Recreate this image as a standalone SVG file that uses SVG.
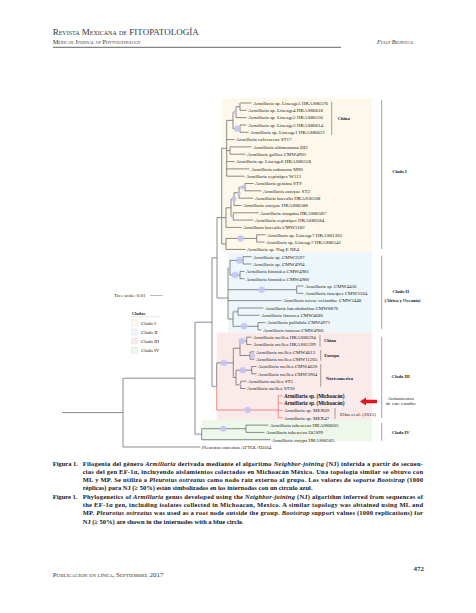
<svg xmlns="http://www.w3.org/2000/svg" width="476" height="613" viewBox="0 0 476 613">
<style>
.t{font-family:"Liberation Serif",serif;font-size:5px;fill:#222}
.tb{font-family:"Liberation Serif",serif;font-size:5.2px;font-weight:bold;fill:#111}
.br{fill:none;stroke:#666;stroke-width:0.75}
.red{fill:none;stroke:#f07070;stroke-width:0.8}
.bs{fill:#c4c4f4;fill-opacity:0.9}
.bar{stroke:#666;stroke-width:0.6}
.cl{font-family:"Liberation Serif",serif;font-size:4.6px;font-weight:bold;fill:#222}
.cap{font-family:"Liberation Serif",serif;font-size:6.5px;font-weight:bold;fill:#151520}
.hd{font-family:"Liberation Serif",serif;fill:#333}
</style>
<rect width="476" height="613" fill="#fff"/>
<g id="header">
<text class="hd" x="52.7" y="35" font-size="9" style="font-variant:small-caps">Revista Mexicana de FITOPATOLOGÍA</text>
<text class="hd" x="52.7" y="43.7" font-size="6.4" style="font-variant:small-caps">Mexican Journal of Phytopathology</text>
<line x1="52.7" y1="47.3" x2="341" y2="47.3" stroke="#222" stroke-width="0.7"/>
<text class="hd" x="377" y="44" font-size="6.2" font-style="italic" fill="#555" style="font-variant:small-caps">Fully Bilingual</text>
</g>
<g id="backgrounds">
<rect x="221.7" y="98" width="150.3" height="154.5" fill="#fdf8ea"/>
<rect x="228" y="252.5" width="144" height="80" fill="#edf7fb"/>
<rect x="216.7" y="332.5" width="155.3" height="87.5" fill="#fbeaea"/>
<rect x="201.7" y="420" width="170.3" height="21" fill="#edf8ea"/>
</g>
<g id="connectors">
<path class="br" d="M240 103V110.3M240 103H251.5M240 110.3H246.5M236 106.7V117.6M236 106.7H240M236 117.6H246.5M240 125V132.3M240 125H246.5M240 132.3H248.5M233 112.1V128.7M233 112.1H236M233 128.7H240
M226.7 120.4V176.2M226.7 120.4H233M226.7 139.6H234.5M230 146.9V154.2M230 146.9H251.5M230 154.2H245.5M226.7 150.6H230M226.7 161.6H234.5M226.7 168.9H249.5M226.7 176.2H244.5
M245 183.5V190.8M245 183.5H253.5M245 190.8H261.5M239 187.2V198.2M239 187.2H245M239 198.2H253.5M234 192.7V205.5M234 192.7H239M234 205.5H241.5M233.3 212.8V220.1M233.3 212.8H258.5M233.3 220.1H253.5M231 199.1V216.5M231 199.1H234M231 216.5H233.3M226 207.8V227.4M226 207.8H231M226 227.4H241.5
M256.7 234.8V242.1M256.7 234.8H265.5M256.7 242.1H264.5M226 238.4V249.4M226 238.4H256.7M226 249.4H245.5
M221.7 148.3V243.9M221.7 148.3H226.7M221.7 217.6H226M221.7 243.9H226
M243 256.7V264M243 256.7H251.5M243 264H251.5M240 271.4V278.7M240 271.4H244.5M240 278.7H244.5M230 260.4V275M230 260.4H243M230 275H240
M296.7 286V293.3M296.7 286H303.5M296.7 293.3H303.5M238 308V315.3M238 308H263.5M238 315.3H259.5M258 322.6V329.9M258 322.6H265.5M258 329.9H261.5M233 311.7V326.3M233 311.7H238M233 326.3H258
M228 267.7V319M228 267.7H230M228 289.7H296.7M228 300.6H281.5M228 319H233
M217 217.6V298M217 217.6H221.7M217 298H228
M246.7 337.2V344.6M246.7 337.2H251.5M246.7 344.6H251.5M250 351.9V359.2M250 351.9H254.5M250 359.2H254.5M240 340.9V355.5M240 340.9H246.7M240 355.5H250
M251.7 366.5V373.8M251.7 366.5H256.5M251.7 373.8H256.5M240.7 381.2V388.5M240.7 381.2H246.5M240.7 388.5H245.5M236 370.2V384.8M236 370.2H251.7M236 384.8H240.7
M233.3 348.2V377.5M233.3 348.2H240M233.3 377.5H236M216.7 362.9V386.5M216.7 362.9H233.3
M212 257.8V386.5M212 257.8H217M212 386.5H216.7
M246 425.1V432.4M246 425.1H268.5M246 432.4H264.5M201.7 428.7V439.7M201.7 428.7H246M201.7 439.7H270.5
M195 322.2V434.2M195 322.2H212M195 434.2H201.7
M123 378.2V447M123 378.2H195M123 447H200.5M62 412.6H123"/>
<path class="red" d="M216.7 386.5V410M216.7 410H278.3M278.3 395.8V417.8M278.3 395.8H282.5M278.3 403.1H282.5M278.3 410.4H282.5M278.3 417.8H282.5"/>
</g>
<g id="bootstrap">
<circle class="bs" cx="239.3" cy="104" r="1.2"/>
<circle class="bs" cx="234.7" cy="112.4" r="1.8"/>
<circle class="bs" cx="237.3" cy="128.7" r="3.2"/>
<circle class="bs" cx="242.7" cy="187.2" r="2.2"/>
<circle class="bs" cx="239.3" cy="193.3" r="1.5"/>
<circle class="bs" cx="234" cy="198.8" r="2.6"/>
<circle class="bs" cx="232.3" cy="216.5" r="1.2"/>
<circle class="bs" cx="240.7" cy="238.4" r="3.2"/>
<circle class="bs" cx="239.3" cy="260.4" r="3.3"/>
<circle class="bs" cx="235" cy="275" r="3.3"/>
<circle class="bs" cx="229.3" cy="267.7" r="1.3"/>
<circle class="bs" cx="261.7" cy="289.7" r="3.3"/>
<circle class="bs" cx="221.7" cy="298.3" r="1.3"/>
<circle class="bs" cx="235" cy="311.7" r="1.6"/>
<circle class="bs" cx="244" cy="326.3" r="3.2"/>
<circle class="bs" cx="203.3" cy="322.2" r="1.3"/>
<circle class="bs" cx="241.7" cy="340.9" r="3.2"/>
<circle class="bs" cx="252.7" cy="355.5" r="2.5"/>
<circle class="bs" cx="242.7" cy="370.2" r="3.2"/>
<circle class="bs" cx="240" cy="384.5" r="1.3"/>
<circle class="bs" cx="224" cy="362.9" r="3.2"/>
<circle class="bs" cx="214" cy="386.5" r="1.3"/>
<circle class="bs" cx="247.7" cy="410" r="3.2"/>
<circle class="bs" cx="223.3" cy="428.7" r="3"/>
<circle class="bs" cx="197.7" cy="434.2" r="1.2"/>
</g>
<g id="tips">
<g id="n1"><text class="t" x="253" y="104.8">Armillaria sp. Lineage5 HKAS86576</text></g>
<g id="n2"><text class="t" x="248" y="112.1">Armillaria sp. Lineage4 HKAS86618</text></g>
<g id="n3"><text class="t" x="248" y="119.4">Armillaria sp. Lineage2 HKAS86556</text></g>
<g id="n4"><text class="t" x="248" y="126.8">Armillaria sp. Lineage3 HKAS86614</text></g>
<g id="n5"><text class="t" x="250" y="134.1">Armillaria sp. Lineage1 HKAS86621</text></g>
<g id="n6"><text class="t" x="236" y="141.4">Armillaria calvescens ST17</text></g>
<g id="n7"><text class="t" x="253" y="148.7">Armillaria altimontana DI2</text></g>
<g id="n8"><text class="t" x="247" y="156">Armillaria gallica CMW4901</text></g>
<g id="n9"><text class="t" x="236" y="163.4">Armillaria sp. Lineage6 HKAS86558</text></g>
<g id="n10"><text class="t" x="251" y="170.7">Armillaria nabsnona M90</text></g>
<g id="n11"><text class="t" x="246" y="178">Armillaria cepistipes W113</text></g>
<g id="n12"><text class="t" x="255" y="185.3">Armillaria gemina ST9</text></g>
<g id="n13"><text class="t" x="263" y="192.6">Armillaria ostoyae ST2</text></g>
<g id="n14"><text class="t" x="255" y="200">Armillaria borealis HKAS36108</text></g>
<g id="n15"><text class="t" x="243" y="207.3">Armillaria ostoyae HKAS86588</text></g>
<g id="n16"><text class="t" x="260" y="214.6">Armillaria sinapina HKAS86587</text></g>
<g id="n17"><text class="t" x="255" y="221.9">Armillaria cepistipes HKAS86584</text></g>
<g id="n18"><text class="t" x="243" y="229.2">Armillaria borealis CMW3182</text></g>
<g id="n19"><text class="t" x="267" y="236.6">Armillaria sp. Lineage7 HKAS81303</text></g>
<g id="n20"><text class="t" x="266" y="243.9">Armillaria sp. Lineage7 HKAS86541</text></g>
<g id="n21"><text class="t" x="247" y="251.2">Armillaria sp. Nag E NE4</text></g>
<g id="n22"><text class="t" x="253" y="258.5">Armillaria sp. CMW3597</text></g>
<g id="n23"><text class="t" x="253" y="265.8">Armillaria sp. CMW4994</text></g>
<g id="n24"><text class="t" x="246" y="273.2">Armillaria hinnulea CMW4981</text></g>
<g id="n25"><text class="t" x="246" y="280.5">Armillaria hinnulea CMW4980</text></g>
<g id="n26"><text class="t" x="305" y="287.8">Armillaria sp. CMW4456</text></g>
<g id="n27"><text class="t" x="305" y="295.1">Armillaria fuscipes CMW3164</text></g>
<g id="n28"><text class="t" x="283" y="302.4">Armillaria novae-zelandiae CMW3448</text></g>
<g id="n29"><text class="t" x="265" y="309.8">Armillaria luteobubalina CMW8876</text></g>
<g id="n30"><text class="t" x="261" y="317.1">Armillaria limonea CMW4680</text></g>
<g id="n31"><text class="t" x="267" y="324.4">Armillaria pallidula CMW4971</text></g>
<g id="n32"><text class="t" x="263" y="331.7">Armillaria fumosa CMW4960</text></g>
<g id="n33"><text class="t" x="253" y="339">Armillaria mellea HKAS86594</text></g>
<g id="n34"><text class="t" x="253" y="346.4">Armillaria mellea HKAS81599</text></g>
<g id="n35"><text class="t" x="256" y="353.7">Armillaria mellea CMW4613</text></g>
<g id="n36"><text class="t" x="256" y="361">Armillaria mellea CMW11265</text></g>
<g id="n37"><text class="t" x="258" y="368.3">Armillaria mellea CMW4620</text></g>
<g id="n38"><text class="t" x="258" y="375.6">Armillaria mellea CMW3964</text></g>
<g id="n39"><text class="t" x="248" y="383">Armillaria mellea ST5</text></g>
<g id="n40"><text class="t" x="247" y="390.3">Armillaria mellea ST20</text></g>
<g id="n41"><text class="tb" x="284" y="397.6">Armillaria sp. (Michoacán)</text></g>
<g id="n42"><text class="tb" x="284" y="404.9">Armillaria sp. (Michoacán)</text></g>
<g id="n43"><text class="t" x="284" y="412.2">Armillaria sp. MEX69</text></g>
<g id="n44"><text class="t" x="284" y="419.6">Armillaria sp. MEX47</text></g>
<g id="n45"><text class="t" x="270" y="426.9">Armillaria tabescens HKAS86605</text></g>
<g id="n46"><text class="t" x="266" y="434.2">Armillaria tabescens OC099</text></g>
<g id="n47"><text class="t" x="272" y="441.5">Armillaria ostypa HKAS86565</text></g>
<g id="n48"><text class="t" x="202" y="448.8">Pleurotus ostreatus AFTOL-ID564</text></g>
</g>
<g id="subgroups">
<line class="bar" x1="331.7" y1="101.7" x2="331.7" y2="135"/>
<text class="cl" x="337.7" y="119.5">China</text>
<line class="bar" x1="320" y1="335" x2="320" y2="346.7"/>
<text class="cl" x="324" y="342.3">China</text>
<line class="bar" x1="320.7" y1="350" x2="320.7" y2="360.7"/>
<text class="cl" x="324.3" y="357">Europa</text>
<line class="bar" x1="320.7" y1="364" x2="320.7" y2="386.7"/>
<text class="cl" x="326" y="380">Norteamerica</text>
<line class="bar" x1="335" y1="408" x2="335" y2="419"/>
<text class="t" x="340" y="415.5" font-size="3.8">Elías et al. (2015)</text>
<polygon points="360,401.5 366,397.5 366,399.8 377,399.8 377,403.2 366,403.2 366,405.5" fill="#e3141b"/>
</g>
<g id="clades">
<line class="bar" x1="381.7" y1="100" x2="381.7" y2="249"/>
<text class="cl" x="399.5" y="172.5" text-anchor="middle">Clado I</text>
<line class="bar" x1="381.7" y1="255.7" x2="381.7" y2="329"/>
<text class="cl" x="400.7" y="293.2" text-anchor="middle">Clado II</text>
<text class="cl" x="402.5" y="301.5" text-anchor="middle" font-size="4">(África y Oceanía)</text>
<line class="bar" x1="381.7" y1="336.7" x2="381.7" y2="418"/>
<text class="cl" x="400.7" y="378.2" text-anchor="middle">Clado III</text>
<text class="t" x="400.7" y="399.5" text-anchor="middle" font-size="3.6">Aislamientos</text>
<text class="t" x="400.7" y="405.2" text-anchor="middle" font-size="3.6">de este estudio</text>
<line class="bar" x1="381.7" y1="423" x2="381.7" y2="440.7"/>
<text class="cl" x="400.7" y="433.5" text-anchor="middle">Clado IV</text>
</g>
<g id="scale">
<text class="t" x="114" y="297" font-size="4.6" fill="#444">Tree scale: 0.01</text>
<line x1="150" y1="295.5" x2="162.7" y2="295.5" stroke="#888" stroke-width="0.6"/>
</g>
<g id="legend">
<text class="cl" x="131.7" y="315">Clados</text>
<line x1="130" y1="316.7" x2="159" y2="316.7" stroke="#ccc" stroke-width="0.5"/>
<rect x="131.5" y="320" width="6" height="6" fill="#fdf8ea" stroke="#ddd" stroke-width="0.4"/>
<text class="t" x="141" y="324.6" font-size="4.6">Clado I</text>
<rect x="131.5" y="329" width="6" height="6" fill="#edf7fb" stroke="#ddd" stroke-width="0.4"/>
<text class="t" x="141" y="333.6" font-size="4.6">Clado II</text>
<rect x="131.5" y="338" width="6" height="6" fill="#fbeaea" stroke="#ddd" stroke-width="0.4"/>
<text class="t" x="141" y="342.6" font-size="4.6">Clado III</text>
<rect x="131.5" y="347.3" width="6" height="6" fill="#edf8ea" stroke="#ddd" stroke-width="0.4"/>
<text class="t" x="141" y="351.9" font-size="4.6">Clado IV</text>
</g>
<g id="caption">
<text class="cap" x="52.7" y="465.5">Figura 1.</text>
<text class="cap" x="82.7" y="465.5" textLength="340.3" lengthAdjust="spacing">Filogenia del género <tspan font-style="italic">Armillaria</tspan> derivada mediante el algoritmo <tspan font-style="italic">Neighbor-joining</tspan> (NJ) inferida a partir de secuen-</text>
<text class="cap" x="82.7" y="473.8" textLength="340.3" lengthAdjust="spacing">cias del gen EF-1α, incluyendo aislamientos colectados en Michoacán México. Una topología similar se obtuvo con</text>
<text class="cap" x="82.7" y="482.1" textLength="340.3" lengthAdjust="spacing">ML y MP. Se utilizó a <tspan font-style="italic">Pleurotus ostreatus</tspan> como nodo raíz externo al grupo. Los valores de soporte <tspan font-style="italic">Bootstrap</tspan> (1000</text>
<text class="cap" x="82.7" y="490.4">réplicas) para NJ (≥ 50%) están simbolizados en los internodos con un círculo azul.</text>
<text class="cap" x="52.7" y="498.7">Figure 1.</text>
<text class="cap" x="82.7" y="498.7" textLength="340.3" lengthAdjust="spacing">Phylogenetics of <tspan font-style="italic">Armillaria</tspan> genus developed using the <tspan font-style="italic">Neighbor-joining</tspan> (NJ) algorithm inferred from sequences of</text>
<text class="cap" x="82.7" y="507" textLength="340.3" lengthAdjust="spacing">the EF-1α gen, including isolates collected in Michoacan, Mexico. A similar topology was obtained using ML and</text>
<text class="cap" x="82.7" y="515.3" textLength="340.3" lengthAdjust="spacing">MP. <tspan font-style="italic">Pleurotus ostreatus</tspan> was used as a root node outside the group. <tspan font-style="italic">Bootstrap</tspan> support values (1000 replications) for</text>
<text class="cap" x="82.7" y="523.6">NJ (≥ 50%) are shown in the internodes with a blue circle.</text>
</g>
<g id="footer">
<text class="hd" x="52.7" y="576.7" font-size="7" style="font-variant:small-caps">Publicacion en línea, Septiembre  2017</text>
<text class="hd" x="424" y="570.7" font-size="7" font-weight="bold" text-anchor="end" fill="#222">472</text>
</g>
</svg>
